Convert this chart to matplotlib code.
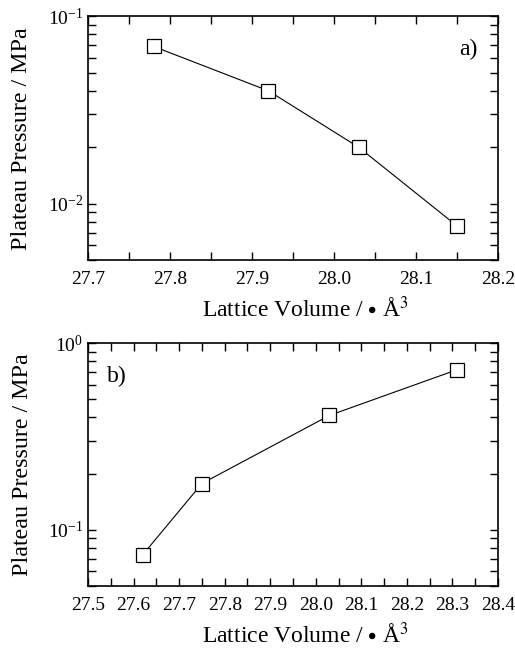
import matplotlib
matplotlib.use('Agg')
from matplotlib import pyplot as plt
from matplotlib.ticker import MultipleLocator, LogLocator, NullFormatter
import numpy as np

plt.rcParams['font.family'] = ['Liberation Serif', 'DejaVu Serif']
plt.rcParams['mathtext.fontset'] = 'stix'

vol_a = [27.78, 27.92, 28.03, 28.15]
pres_a = [0.069, 0.040, 0.020, 0.0076]
vol_b = [27.62, 27.75, 28.03, 28.31]
pres_b = [0.0735, 0.177, 0.41, 0.72]

xlabel = 'Lattice Volume / $\\bullet$ Å$^{3}$'
ylabel = 'Plateau Pressure / MPa'

fig = plt.figure(figsize=(5.15, 6.51), dpi=100)
ax_a = fig.add_axes([0.171, 0.6006, 0.796, 0.3744])
ax_b = fig.add_axes([0.171, 0.0998, 0.796, 0.3732])


def style(ax, xlim, ylim, xticks):
    ax.set_yscale('log')
    ax.set_xlim(*xlim)
    ax.set_ylim(*ylim)
    ax.set_xticks(xticks)
    ax.xaxis.set_minor_locator(MultipleLocator(0.05))
    ax.yaxis.set_minor_locator(LogLocator(base=10, subs=np.arange(2, 10)))
    ax.yaxis.set_minor_formatter(NullFormatter())
    ax.tick_params(which='both', direction='in', top=True, right=True,
                   labelsize=14, width=1.0, length=6)
    ax.tick_params(axis='x', pad=8)
    for s in ax.spines.values():
        s.set_linewidth(1.2)
    ax.set_xlabel(xlabel, fontsize=17, labelpad=6)
    ax.xaxis.label.set_x(0.53)
    ax.set_ylabel(ylabel, fontsize=17.3, labelpad=11)


ax_a.plot(vol_a, pres_a, color='black', lw=0.8, marker='s', ms=9.5,
          mfc='white', mec='black', mew=0.9)
style(ax_a, (27.7, 28.2), (0.005, 0.1),
      [27.7, 27.8, 27.9, 28.0, 28.1, 28.2])
ax_a.text(0.905, 0.84, 'a)', transform=ax_a.transAxes, fontsize=17)

ax_b.plot(vol_b, pres_b, color='black', lw=0.8, marker='s', ms=9.5,
          mfc='white', mec='black', mew=0.9)
style(ax_b, (27.5, 28.4), (0.05, 1.0),
      [27.5, 27.6, 27.7, 27.8, 27.9, 28.0, 28.1, 28.2, 28.3, 28.4])
ax_b.text(0.045, 0.84, 'b)', transform=ax_b.transAxes, fontsize=17)

fig.savefig('out.png', dpi=100)
